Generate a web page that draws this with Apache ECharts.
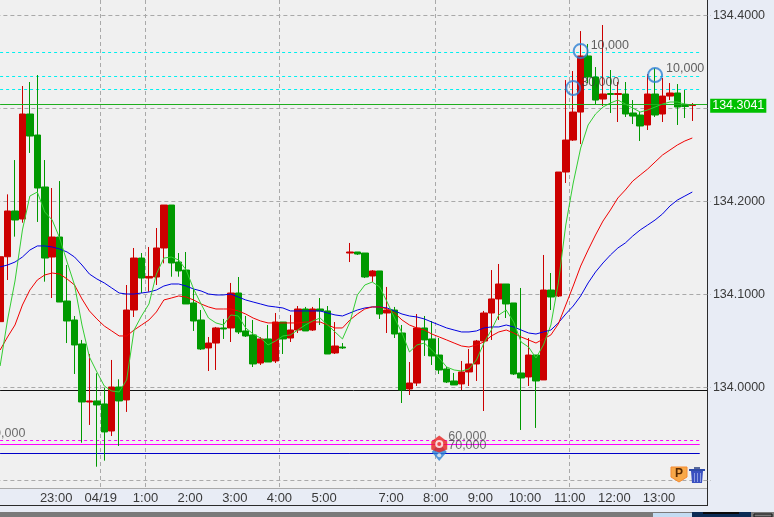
<!DOCTYPE html>
<html lang="en">
<head>
<meta charset="UTF-8">
<title>USD/JPY 10 min</title>
<style>
  body { margin: 0; background: #e8ecf5; overflow: hidden; }
  #chart { width: 774px; height: 517px; }
</style>
</head>
<body>
<div id="chart"></div>
<script src="https://cdn.jsdelivr.net/npm/echarts@6/dist/echarts.min.js"></script>
<script>
// candle values, one entry per 10 minute bar
const opens = [134.0708,134.1406,134.1898,134.1812,134.2941,134.2715,134.2156,134.1403,134.1618,134.0930,134.0726,134.0468,133.9844,133.9855,133.9823,133.9532,134.0005,133.9866,134.0833,134.1392,134.1177,134.1188,134.1500,134.1962,134.1349,134.1263,134.0909,134.0726,134.0425,134.0478,134.0640,134.0640,134.1016,134.0608,134.0565,134.0263,134.0522,134.0285,134.0704,134.0532,134.0618,134.0844,134.0618,134.0844,134.0823,134.0371,134.0435,134.1446,134.1457,134.1446,134.1199,134.1253,134.0801,134.0833,134.0586,133.9984,134.0048,134.0640,134.0522,134.0349,134.0199,134.0070,134.0038,134.0167,134.0253,134.0500,134.0801,134.0952,134.1113,134.0909,134.0156,134.0113,134.0349,134.0081,134.1048,134.0984,134.2317,134.2661,134.2962,134.3565,134.3339,134.3102,134.3161,134.3151,134.3156,134.2952,134.2930,134.2823,134.3156,134.2941,134.3134,134.3167,134.3032,134.3032];
const closes = [134.1406,134.1898,134.1801,134.2941,134.2704,134.2145,134.1392,134.1618,134.0919,134.0715,134.0457,133.9844,133.9855,133.9812,133.9522,134.0005,133.9855,134.0833,134.1392,134.1177,134.1194,134.1500,134.1962,134.1339,134.1253,134.0898,134.0715,134.0414,134.0478,134.0640,134.0629,134.1016,134.0597,134.0554,134.0253,134.0522,134.0274,134.0704,134.0522,134.0618,134.0844,134.0608,134.0844,134.0823,134.0360,134.0446,134.0425,134.1457,134.1435,134.1188,134.1253,134.0790,134.0833,134.0575,133.9973,134.0048,134.0640,134.0511,134.0339,134.0188,134.0059,134.0027,134.0167,134.0253,134.0500,134.0801,134.0952,134.1113,134.0898,134.0145,134.0102,134.0349,134.0070,134.1048,134.0973,134.2317,134.2661,134.2962,134.3565,134.3339,134.3091,134.3156,134.3151,134.3161,134.2941,134.2919,134.2812,134.3156,134.2930,134.3134,134.3167,134.3016,134.3022,134.3041];
const lows = [134.0385,134.1156,134.1622,134.1772,134.2522,134.1780,134.1138,134.0962,134.0919,134.0478,134.0145,133.9406,133.9597,133.9148,133.9213,133.9478,133.9371,133.9737,134.0758,134.1016,134.1030,134.1102,134.1335,134.1191,134.1191,134.0898,134.0608,134.0403,134.0177,134.0188,134.0522,134.0489,134.0575,134.0543,134.0220,134.0242,134.0274,134.0263,134.0360,134.0489,134.0586,134.0608,134.0608,134.0672,134.0360,134.0360,134.0414,134.1349,134.1425,134.1177,134.1134,134.0737,134.0586,134.0532,133.9833,133.9919,134.0016,134.0339,134.0242,134.0145,134.0048,134.0027,133.9973,134.0016,134.0070,133.9747,134.0511,134.0726,134.0747,134.0134,133.9543,134.0016,133.9565,134.0081,134.0833,134.0973,134.2199,134.2651,134.2618,134.3274,134.3038,134.3027,134.2952,134.2855,134.2909,134.2833,134.2651,134.2769,134.2909,134.2855,134.3091,134.2823,134.2898,134.2866];
const highs = [134.1557,134.2077,134.2446,134.3242,134.3285,134.3360,134.2446,134.2145,134.2220,134.1317,134.0769,134.0511,134.0360,134.0153,133.9995,134.0296,134.0088,134.1102,134.1500,134.1446,134.1511,134.1715,134.1962,134.1962,134.1446,134.1457,134.1070,134.0833,134.0543,134.0651,134.0737,134.1124,134.1188,134.0769,134.0726,134.0543,134.0672,134.0801,134.0704,134.0780,134.0876,134.0866,134.0866,134.0962,134.0876,134.0704,134.0478,134.1554,134.1457,134.1446,134.1263,134.1253,134.1081,134.0866,134.0672,134.0274,134.0790,134.0769,134.0715,134.0532,134.0220,134.0156,134.0285,134.0414,134.0511,134.0823,134.1263,134.1328,134.1113,134.0909,134.1070,134.0532,134.0349,134.1425,134.1231,134.2317,134.3306,134.3403,134.3833,134.3694,134.3446,134.3898,134.3414,134.3285,134.3285,134.3091,134.2962,134.3371,134.3435,134.3328,134.3274,134.3263,134.3199,134.3059];

// moving averages
const maFast = [134.0231,134.0726,134.1145,134.1694,134.2059,134.2102,134.1887,134.1801,134.1608,134.1349,134.1102,134.0672,134.0328,134.0167,134.0016,133.9962,133.9952,134.0081,134.0618,134.0769,134.0898,134.1220,134.1392,134.1403,134.1371,134.1263,134.1059,134.0898,134.0747,134.0694,134.0672,134.0780,134.0769,134.0640,134.0575,134.0532,134.0457,134.0500,134.0554,134.0565,134.0618,134.0672,134.0715,134.0747,134.0672,134.0597,134.0522,134.0704,134.0995,134.1102,134.1134,134.1081,134.0919,134.0747,134.0586,134.0382,134.0457,134.0478,134.0403,134.0317,134.0220,134.0188,134.0177,134.0199,134.0296,134.0478,134.0618,134.0780,134.0833,134.0704,134.0489,134.0435,134.0317,134.0457,134.0672,134.1124,134.1747,134.2199,134.2575,134.2823,134.2941,134.3016,134.3059,134.3091,134.3048,134.3005,134.2962,134.2984,134.3016,134.3048,134.3070,134.3070,134.3048,134.3038];
const maMid = [134.0403,134.0543,134.0672,134.0887,134.1048,134.1156,134.1210,134.1231,134.1220,134.1167,134.1102,134.0952,134.0823,134.0737,134.0661,134.0608,134.0554,134.0554,134.0618,134.0672,134.0726,134.0812,134.0941,134.0962,134.0984,134.0973,134.0941,134.0898,134.0866,134.0844,134.0844,134.0844,134.0823,134.0790,134.0747,134.0715,134.0694,134.0694,134.0694,134.0694,134.0694,134.0704,134.0704,134.0704,134.0672,134.0640,134.0640,134.0726,134.0790,134.0844,134.0866,134.0866,134.0844,134.0801,134.0726,134.0672,134.0640,134.0618,134.0575,134.0543,134.0511,134.0478,134.0446,134.0435,134.0457,134.0489,134.0554,134.0597,134.0618,134.0586,134.0543,134.0511,134.0478,134.0522,134.0565,134.0683,134.0887,134.1091,134.1306,134.1478,134.1640,134.1790,134.1909,134.2038,134.2124,134.2220,134.2285,134.2349,134.2425,134.2500,134.2554,134.2608,134.2651,134.2683];
const maSlow = [134.1296,134.1317,134.1349,134.1403,134.1478,134.1522,134.1522,134.1511,134.1489,134.1457,134.1403,134.1317,134.1220,134.1167,134.1124,134.1070,134.1016,134.1005,134.1005,134.1016,134.1027,134.1048,134.1091,134.1113,134.1113,134.1091,134.1059,134.1038,134.1005,134.0995,134.0995,134.1005,134.0973,134.0941,134.0919,134.0898,134.0876,134.0866,134.0855,134.0823,134.0823,134.0823,134.0823,134.0823,134.0801,134.0780,134.0769,134.0801,134.0833,134.0855,134.0866,134.0866,134.0855,134.0823,134.0790,134.0769,134.0758,134.0737,134.0704,134.0672,134.0640,134.0618,134.0597,134.0597,134.0608,134.0640,134.0651,134.0651,134.0672,134.0651,134.0618,134.0586,134.0575,134.0597,134.0618,134.0694,134.0790,134.0876,134.0984,134.1124,134.1242,134.1339,134.1425,134.1500,134.1554,134.1629,134.1694,134.1747,134.1801,134.1866,134.1952,134.2016,134.2059,134.2102];

// time axis: index of the bar each label belongs to
const tickBars = [8, 14, 20, 26, 32, 38, 44, 53, 59, 65, 71, 77, 83, 89];
const tickLabels = ['23:00', '04/19', '1:00', '2:00', '3:00', '4:00', '5:00', '7:00', '8:00', '9:00', '10:00', '11:00', '12:00', '13:00'];
const gridBars = [14, 20, 38, 59, 77];
const barSlots = 96;

// price axis
const priceLabels = [134.0, 134.1, 134.2, 134.3, 134.4];
const priceGrid = [133.9, 134.0, 134.1, 134.2, 134.3, 134.4];

// horizontal levels
const cyanLevels = [134.3604, 134.3346, 134.3206];
const currentPrice = 134.3041;
const blackLevel = 133.997;
const magentaDashed = 133.9432;
const magentaSolid = 133.9392;
const blueLevel = 133.9292;

// order rings: bar, price, amount
const ringBars = [78, 77, 88];
const ringPrices = [134.3618, 134.322, 134.336];
const ringAmounts = ['10,000', '30,000', '10,000'];
const ringLabelShift = [[0, -6], [-2, -6], [1, -6]];

// order flags near the bottom
const flagBar = 59;
const flagSell = 133.9392;
const flagBuy = 133.9306;
const flagAmounts = ['60,000', '70,000'];
const flagAmountPrices = [133.9475, 133.9378];
const cutAmount = '70,000';
const cutAmountPrice = 133.9505;
const amountTexts = [flagAmounts[0], flagAmounts[1], cutAmount];
const amountShift = [[9, 0], [9, 0], [-13, 0]];

const categories = [];
for (let i = 0; i < barSlots; i++) {
  const t = tickBars.indexOf(i);
  categories.push(t >= 0 ? tickLabels[t] : 'b' + i);
}
const candles = opens.map((o, i) => [o, closes[i], lows[i], highs[i]]);

function hline(value, color, type, endBar) {
  return [
    { coord: [0, value], lineStyle: { color: color, type: type, width: 1 } },
    { coord: [endBar, value] }
  ];
}
const txt = '#3a3a3a';
const uiFont = '"Liberation Sans", Arial, sans-serif';

const chart = echarts.init(document.getElementById('chart'));
chart.setOption({
  animation: false,
  backgroundColor: '#e8ecf5',
  textStyle: { fontFamily: uiFont },
  grid: {
    left: -3.62, top: 0, width: 714.53, height: 488, show: true, backgroundColor: '#f0f0f0', borderWidth: 0,
    outerBoundsMode: 'none'
  },
  xAxis: {
    type: 'category',
    data: categories,
    boundaryGap: true,
    axisLine: { onZero: false, lineStyle: { color: '#a9a9a9', width: 1 } },
    axisTick: { length: 2, lineStyle: { color: '#a9a9a9' }, interval: i => tickBars.includes(i) },
    axisLabel: { color: txt, fontSize: 13, margin: 4, padding: [0, 7, 0, 0], interval: i => tickBars.includes(i), hideOverlap: false },
    splitLine: { show: true, interval: i => gridBars.includes(i), lineStyle: { color: '#a9a9a9', type: [4, 3], width: 1 } }
  },
  yAxis: {
    type: 'value',
    position: 'right',
    min: 133.8919,
    max: 134.4167,
    z: 4,
    scale: true,
    axisLine: { show: false },
    axisTick: { show: false, customValues: priceGrid },
    axisLabel: { color: txt, fontSize: 12.5, margin: 2, customValues: priceLabels, formatter: v => v.toFixed(4) },
    splitLine: { show: true, lineStyle: { color: '#a9a9a9', type: [4, 3], width: 1 } }
  },
  series: [
    {
      type: 'line', name: 'levels', data: [], z: 5, silent: true,
      markLine: {
        silent: true, symbol: 'none', animation: false, z: 5,
        label: { show: false },
        data: [
          ...cyanLevels.map(v => hline(v, '#00f0f0', [3, 3], 94)),
          hline(blackLevel, '#111111', 'solid', 95),
          hline(magentaDashed, '#ff00ff', [3, 3], 94),
          hline(magentaSolid, '#ff00ff', 'solid', 94),
          hline(blueLevel, '#0000c8', 'solid', 94)
        ]
      }
    },
    {
      type: 'candlestick',
      data: candles,
      barWidth: 7,
      z: 6,
      itemStyle: { color: '#cc0000', color0: '#009900', borderColor: '#cc0000', borderColor0: '#009900', borderWidth: 1 }
    },
    { type: 'line', data: maSlow, symbol: 'none', z: 7, lineStyle: { color: '#0000e0', width: 1 } },
    { type: 'line', data: maMid, symbol: 'none', z: 7, lineStyle: { color: '#f00000', width: 1 } },
    { type: 'line', data: maFast, symbol: 'none', z: 7, lineStyle: { color: '#33cc33', width: 1 } },
    {
      type: 'line', name: 'current', data: [], z: 8, silent: true,
      markLine: {
        silent: true, symbol: 'none', animation: false, z: 8,
        data: [[
          {
            coord: [0, currentPrice],
            lineStyle: { color: '#1fae1f', type: 'solid', width: 1 },
            label: {
              show: true, position: 'end', distance: 3, formatter: currentPrice.toFixed(4),
              color: '#ffffff', backgroundColor: '#00c000', fontSize: 12.5, padding: [0, 2, 0, 2], lineHeight: 14,
              offset: [0, 1]
            }
          },
          { coord: [95, currentPrice] }
        ]]
      }
    },
    {
      type: 'scatter', z: 9, silent: true, symbol: 'circle', symbolSize: 14,
      itemStyle: { color: 'rgba(0,0,0,0)', borderColor: '#2a7fd5', borderWidth: 2 },
      label: {
        show: true, position: 'right', distance: 2, color: txt, fontSize: 12.5,
        formatter: p => ringAmounts[p.dataIndex]
      },
      labelLayout: p => ({ dx: ringLabelShift[p.dataIndex][0], dy: ringLabelShift[p.dataIndex][1], hideOverlap: false }),
      data: ringBars.map((b, i) => [b, ringPrices[i]])
    },
    {
      // blue buy flag under the red sell flag
      type: 'scatter', z: 10, silent: true, symbol: 'diamond', symbolSize: [15, 18],
      itemStyle: { color: '#2a7fd5' },
      data: [[flagBar, flagBuy]]
    },
    {
      type: 'scatter', z: 11, silent: true, symbol: 'circle', symbolSize: 4,
      itemStyle: { color: '#f0f0f0' },
      data: [[flagBar, flagBuy - 0.0035]]
    },
    {
      type: 'scatter', z: 12, silent: true,
      symbol: 'path://M8 0 L16 6 L16 14 L8 17 L0 14 L0 6 Z', symbolSize: [16, 17],
      itemStyle: { color: '#e82020' },
      data: [[flagBar, flagSell]]
    },
    {
      type: 'scatter', z: 13, silent: true, symbol: 'circle', symbolSize: 8,
      itemStyle: { color: '#ffffff' },
      data: [[flagBar, flagSell]]
    },
    {
      type: 'scatter', z: 14, silent: true, symbol: 'circle', symbolSize: 4,
      itemStyle: { color: '#e82020' },
      data: [[flagBar, flagSell]]
    },
    {
      // amount labels of the flags, and one whose flag is left of the window
      type: 'scatter', z: 15, silent: true, symbolSize: 0,
      labelLayout: p => ({ dx: amountShift[p.dataIndex][0], dy: amountShift[p.dataIndex][1], hideOverlap: false }),
      label: { show: true, position: 'right', distance: 0, color: '#4a4a4a', fontSize: 12.5, formatter: p => amountTexts[p.dataIndex] },
      data: [[flagBar, flagAmountPrices[0]], [flagBar, flagAmountPrices[1]], [0, cutAmountPrice]]
    }
  ],
  graphic: [
    // right hand price panel and frame
    { type: 'rect', z: 3, shape: { x: 707, y: 0, width: 67, height: 512 }, style: { fill: '#e8ecf5' } },
    { type: 'rect', z: 4, shape: { x: 707, y: 0, width: 1, height: 506 }, style: { fill: '#2b2b2b' } },
    { type: 'rect', z: 4, shape: { x: 0, y: 505, width: 708, height: 1 }, style: { fill: '#2b2b2b' } },
    // window strip along the bottom
    { type: 'rect', z: 4, shape: { x: 0, y: 512, width: 774, height: 5 }, style: { fill: '#7a7a7a' } },
    { type: 'rect', z: 4, shape: { x: 653, y: 513, width: 39, height: 4 }, style: { fill: '#c4dcf2' } },
    { type: 'rect', z: 4, shape: { x: 692, y: 512, width: 59, height: 5 }, style: { fill: '#0c2c55' } },
    { type: 'rect', z: 4, shape: { x: 703, y: 512, width: 36, height: 2 }, style: { fill: '#0a0a0a' } },
    { type: 'rect', z: 4, shape: { x: 754, y: 514, width: 18, height: 3 }, style: { fill: 'none', stroke: '#111111', lineWidth: 1 } },
    // P button
    { type: 'polygon', z: 20, shape: { points: [[671, 467], [687, 467], [687, 477], [679, 482], [671, 477]] }, style: { fill: '#f8a848', stroke: '#f58a30', lineWidth: 1 } },
    { type: 'text', z: 21, style: { x: 679, y: 474, text: 'P', align: 'center', verticalAlign: 'middle', fill: '#5a2a00', font: 'bold 12px ' + uiFont } },
    // trash button
    { type: 'rect', z: 20, shape: { x: 689, y: 469, width: 16, height: 2 }, style: { fill: '#2f4aa8' } },
    { type: 'rect', z: 20, shape: { x: 694, y: 467, width: 6, height: 2 }, style: { fill: '#5a6a9a' } },
    { type: 'polygon', z: 20, shape: { points: [[691, 471], [703, 471], [702, 483], [692, 483]] }, style: { fill: '#3a50c0' } },
    { type: 'rect', z: 21, shape: { x: 694, y: 473, width: 1, height: 9 }, style: { fill: '#8c9ae0' } },
    { type: 'rect', z: 21, shape: { x: 697, y: 473, width: 1, height: 9 }, style: { fill: '#8c9ae0' } },
    { type: 'rect', z: 21, shape: { x: 700, y: 473, width: 1, height: 9 }, style: { fill: '#8c9ae0' } }
  ]
});
</script>
</body>
</html>
